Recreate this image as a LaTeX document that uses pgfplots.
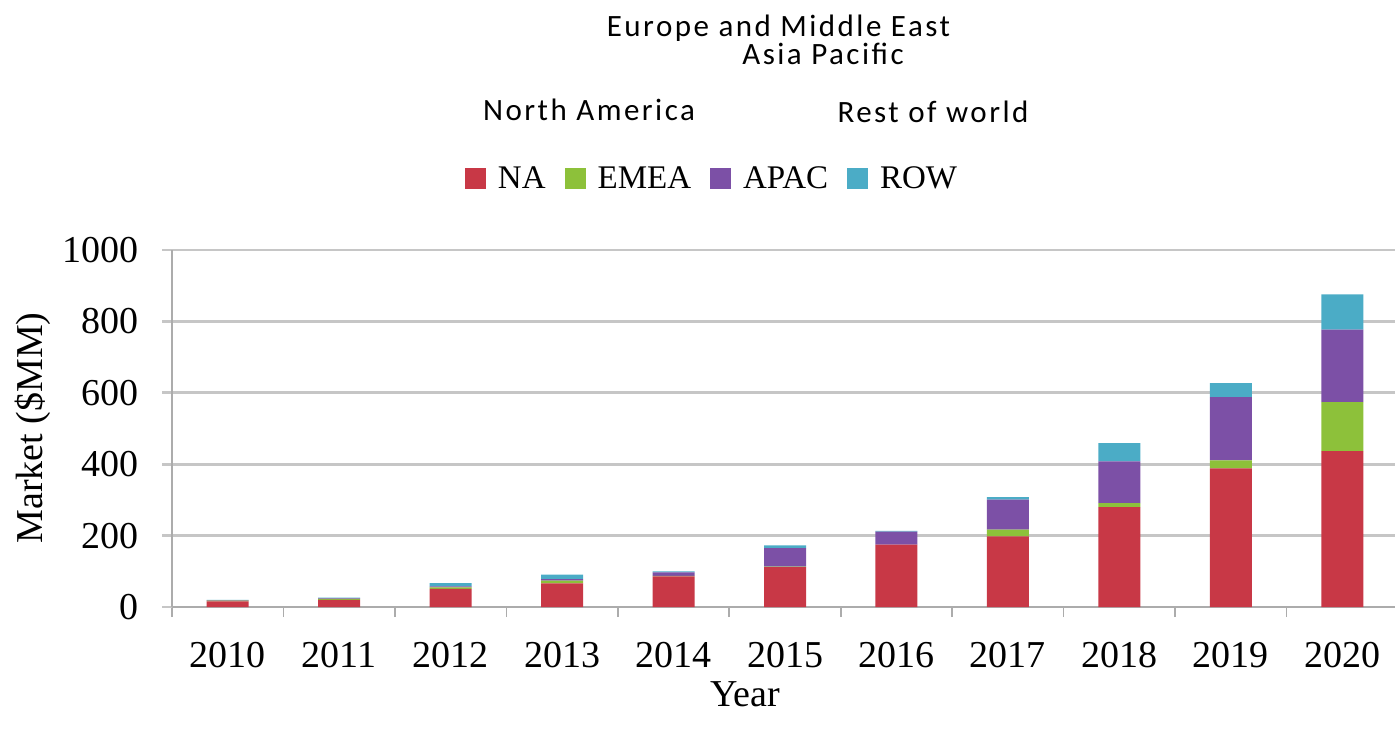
\documentclass[border=0pt]{standalone}
\usepackage{fontspec}
\setmainfont{Liberation Serif}
\newfontfamily\calfont[LetterSpace=8]{Carlito}
\usepackage{pgfplots}
\usepackage{pgfplotstable}
\pgfplotsset{compat=1.18}

\definecolor{naRed}{RGB}{200,56,70}
\definecolor{emeaGreen}{RGB}{141,193,58}
\definecolor{apacPurple}{RGB}{124,80,166}
\definecolor{rowCyan}{RGB}{75,172,198}

% market by region, $MM
\pgfplotstableread{
x  year  NA   EMEA  APAC  ROW
0  2010  16   2     1     1
1  2011  20   3     1     2
2  2012  51   4     3     9
3  2013  66   8     4     13
4  2014  86   1     10    3
5  2015  112  1     52    8
6  2016  175  0     36    2
7  2017  198  19    84    7
8  2018  280  11    117   51
9  2019  388  23    177   39
10 2020  437  137   203   99
}\market

\begin{document}
\begin{tikzpicture}
\useasboundingbox (0,0) rectangle (697.5pt,368pt);
\clip (0,0) rectangle (697.5pt,368pt);
\begin{axis}[
    at={(86pt,64.5pt)}, anchor=south west,
    scale only axis, width=613pt, height=178.5pt,
    xmin=-0.5, xmax=10.5, ymin=0, ymax=1000,
    ybar stacked, bar width=21pt,
    axis x line*=bottom, axis y line*=left,
    axis line style={-, draw=gray!65, line width=0.8pt},
    xtick={0,...,10},
    xticklabels={2010,2011,2012,2013,2014,2015,2016,2017,2018,2019,2020},
    minor xtick={-0.5,0.5,...,10.5},
    ytick={0,200,...,1000},
    tick align=outside,
    major tick length=5pt, minor tick length=5pt,
    major x tick style={draw=none},
    minor x tick style={draw=gray!65, line width=0.8pt},
    major y tick style={draw=gray!45, line width=1.35pt},
    ymajorgrids,
    major grid style={draw=gray!45, line width=1.35pt},
    ticklabel style={font=\fontsize{19}{19}\selectfont},
    /pgf/number format/assume math mode=true,
    /pgf/number format/1000 sep={},
    yticklabel style={xshift=-8pt},
    xticklabel style={yshift=-9pt},
    legend columns=4,
    legend style={at={(0.4413,1.199)}, anchor=center, draw=none, fill=none,
        font=\fontsize{16.5}{16.5}\selectfont,
        /tikz/every odd column/.append style={column sep=4pt},
        /tikz/every even column/.append style={column sep=7.5pt}},
    sq/.style={legend image code/.code={\fill[##1] (0pt,-5pt) rectangle (10.5pt,5.5pt);}},
]
\addplot[fill=naRed, draw=none, sq] table[x=x, y=NA] {\market};
\addplot[fill=emeaGreen, draw=none, sq] table[x=x, y=EMEA] {\market};
\addplot[fill=apacPurple, draw=none, sq] table[x=x, y=APAC] {\market};
\addplot[fill=rowCyan, draw=none, sq] table[x=x, y=ROW] {\market};
\legend{NA, EMEA, APAC, ROW}
\end{axis}

\node[rotate=90, anchor=base, font=\fontsize{19}{19}\selectfont] at (21pt,154pt) {Market (\$MM)};
\node[anchor=base, font=\fontsize{19}{19}\selectfont] at (372.5pt,15pt) {Year};

\begin{scope}[every node/.style={anchor=base, inner sep=0pt, font=\calfont\fontsize{15.5}{15.5}\selectfont}]
\node at (389.25pt,350pt) {Europe and Middle East};
\node at (411.5pt,336pt) {Asia Pacific};
\node at (294.5pt,308pt) {North America};
\node at (466.5pt,307pt) {Rest of world};
\end{scope}
\end{tikzpicture}
\end{document}
